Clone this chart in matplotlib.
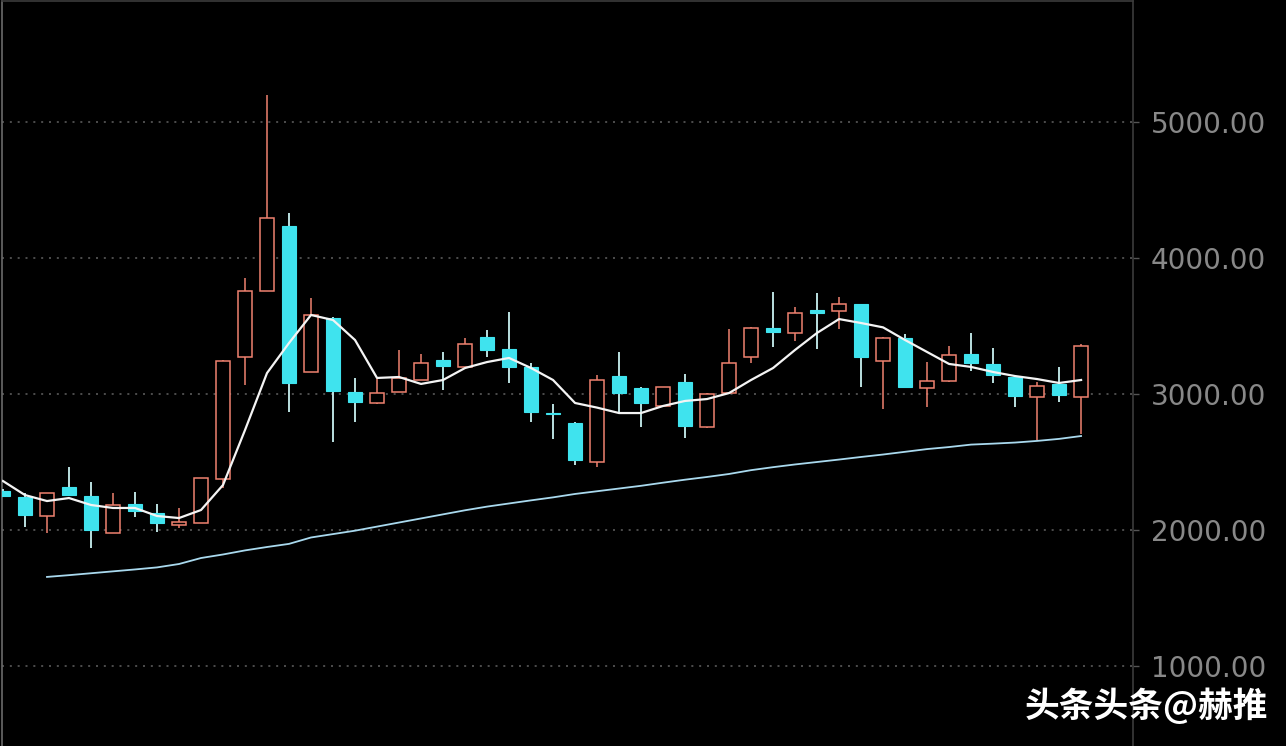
import matplotlib
matplotlib.use('Agg')
import matplotlib.pyplot as plt
import numpy as np

# candle data (oldest on the left)
opens = [2290, 2245, 2105, 2316, 2250, 1980, 2190, 2125, 2040, 2050,
         2375, 3272, 3757, 4235, 3162, 3559, 3015, 2934, 3015, 3103,
         3250, 3199, 3419, 3331, 3200, 2860, 2787, 2500, 3132, 3044,
         2912, 3088, 2757, 3007, 3272, 3485, 3449, 3618, 3610, 3662,
         3243, 3412, 3044, 3096, 3294, 3221, 3125, 2978, 3074, 2978]
closes = [2250, 2110, 2272, 2257, 2000, 2185, 2140, 2050, 2060, 2382,
          3243, 3757, 4294, 3080, 3580, 3022, 2941, 3007, 3118, 3228,
          3206, 3368, 3324, 3199, 2868, 2850, 2515, 3103, 3007, 2934,
          3051, 2765, 3000, 3228, 3485, 3456, 3596, 3596, 3662, 3272,
          3412, 3051, 3096, 3287, 3228, 3140, 2985, 3059, 2993, 3353]
highs = [2300, 2275, 2275, 2463, 2353, 2272, 2280, 2190, 2160, 2385,
         3250, 3853, 5200, 4330, 3706, 3565, 3118, 3110, 3324, 3294,
         3309, 3412, 3471, 3603, 3228, 2926, 2795, 3140, 3309, 3050,
         3055, 3147, 3005, 3478, 3490, 3750, 3640, 3743, 3713, 3665,
         3420, 3441, 3235, 3353, 3449, 3338, 3130, 3088, 3199, 3368]
lows = [2240, 2020, 1980, 2255, 1868, 1975, 2095, 1985, 2015, 2048,
        2310, 3066, 3757, 2868, 3160, 2647, 2794, 2930, 3012, 3100,
        3029, 3195, 3272, 3081, 2794, 2669, 2478, 2463, 2860, 2757,
        2905, 2676, 2750, 3000, 3228, 3346, 3390, 3331, 3478, 3051,
        2890, 3048, 2904, 3090, 3169, 3081, 2904, 2662, 2941, 2706]

# short moving average (white line)
ma_short = [2360, 2257, 2213, 2235, 2184, 2162, 2162, 2103, 2088, 2147,
            2331, 2735, 3154, 3375, 3581, 3544, 3397, 3118, 3125, 3074,
            3103, 3191, 3235, 3265, 3191, 3103, 2934, 2900, 2860, 2860,
            2912, 2949, 2963, 3007, 3103, 3191, 3324, 3449, 3551, 3522,
            3490, 3397, 3309, 3221, 3199, 3162, 3132, 3110, 3081, 3103]

# long moving average (light blue line), starts at the third candle
ma_long = [np.nan, np.nan, 1655, 1668, 1682, 1696, 1710, 1725, 1750, 1794,
           1820, 1850, 1875, 1898, 1945, 1970, 1995, 2025, 2055, 2085,
           2115, 2145, 2172, 2195, 2218, 2240, 2265, 2285, 2305, 2325,
           2348, 2370, 2390, 2412, 2440, 2462, 2482, 2500, 2518, 2537,
           2555, 2575, 2595, 2610, 2628, 2635, 2643, 2655, 2670, 2691]

y_ticks = [1000, 2000, 3000, 4000, 5000]

UP = '#f08270'
DOWN = '#3fe3ee'
DOWN_WICK = '#c9f2f2'

fig = plt.figure(figsize=(12.86, 7.46), dpi=100, facecolor='black')
ax = fig.add_axes([2 / 1286, 0, 1131 / 1286, 745 / 746])
ax.set_facecolor('black')

x = np.arange(len(opens))
w = 0.6

for i in x:
    o, c, h, l = opens[i], closes[i], highs[i], lows[i]
    top = max(o, c)
    bot = min(o, c)
    hgt = max(top - bot, 8)
    if c >= o:
        # hollow red candle, wicks stop at the box
        ax.vlines(i, top, h, color=UP, lw=1.1, zorder=3)
        ax.vlines(i, l, bot, color=UP, lw=1.1, zorder=3)
        ax.bar(i, hgt, bottom=bot, width=w, facecolor='black',
               edgecolor=UP, linewidth=1.1, zorder=4)
    else:
        ax.vlines(i, l, h, color=DOWN_WICK, lw=1.3, zorder=3)
        ax.bar(i, hgt, bottom=bot, width=w, facecolor=DOWN,
               edgecolor=DOWN, linewidth=0.8, zorder=4)

# moving averages
ax.plot(x, ma_short, color='#f4f4f4', lw=1.6, zorder=5,
        solid_joinstyle='round')
ax.plot(x, ma_long, color='#a9d9ee', lw=1.3, zorder=5)

ax.set_xlim(-0.045, 51.36)
ax.set_ylim(411.8, 5889.7)

# price axis on the right
ax.yaxis.tick_right()
ax.set_yticks(y_ticks)
ax.set_yticklabels(['%.2f' % v for v in y_ticks])
ax.tick_params(axis='y', colors='#555555', length=4, width=1, pad=9,
               labelsize=20, labelcolor='#888888')
ax.set_xticks([])
ax.grid(axis='y', color='#5a5a5a', linestyle=(0, (1.2, 3.5)), linewidth=1.2)
ax.set_axisbelow(True)

for s in ['left', 'top', 'right']:
    ax.spines[s].set_color('#3c3c3c')
    ax.spines[s].set_linewidth(1.2)
ax.spines['left'].set_color('#6a6a6a')
ax.spines['bottom'].set_visible(False)

# watermark
fig.text(1025 / 1286, 1 - 706 / 746, '头条头条@赫推', color='white',
         fontsize=25, fontweight='bold', va='center', ha='left',
         family=['Noto Sans CJK SC', 'DejaVu Sans'])

fig.savefig('out.png', dpi=100, facecolor='black')
